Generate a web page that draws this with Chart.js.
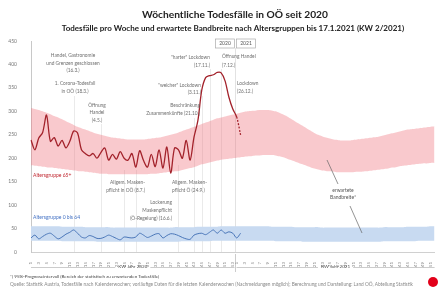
<!DOCTYPE html>
<html><head><meta charset="utf-8">
<script src="https://cdn.jsdelivr.net/npm/chart.js@4.4.1/dist/chart.umd.min.js"></script>
<style>html,body{margin:0;padding:0;background:#fff;}canvas{display:block;}</style>
</head><body>
<canvas id="c" width="442" height="287"></canvas>
<script>
// ---- DATA ----
const weeks2020 = [1,2,3,4,5,6,7,8,9,10,11,12,13,14,15,16,17,18,19,20,21,22,23,24,25,26,27,28,29,30,31,32,33,34,35,36,37,38,39,40,41,42,43,44,45,46,47,48,49,50,51,52,53];
const weeks2021 = [1,2,3,4,5,6,7,8,9,10,11,12,13,14,15,16,17,18,19,20,21,22,23,24,25,26,27,28,29,30,31,32,33,34,35,36,37,38,39,40,41,42,43,44,45,46,47,48,49,50,51,52];
const weekLabels = weeks2020.concat(weeks2021);

// weekly deaths age group 65+ (2020 KW1..53, 2021 KW1..2)
const deaths65plus = [239,218,243,255,292,236,244,226,238,222,236,258,254,218,210,205,210,200,212,222,196,208,198,214,200,196,210,181,216,195,181,208,182,218,179,224,168,222,218,200,238,196,245,280,345,372,376,378,383,382,365,330,305,288,250];
// weekly deaths age group 0-64
const deaths0to64 = [30,36,28,33,38,40,34,28,32,38,42,47,40,32,30,35,33,29,29,32,36,33,29,26,32,31,30,32,40,36,31,34,38,39,30,35,39,38,35,31,28,27,36,39,40,37,42,47,40,47,40,43,40,30,40];

// expected range (95% prediction interval), 65+
const band65Lower = [185,184,183,182,181,180,179,178,177,176,175,174,173,172,171,170,169,168,167,167,166,166,166,166,166,166,166,166,166,166,166,167,167,168,169,170,171,172,173,175,177,179,181,184,187,189,191,193,195,197,198,199,200,
 201,202,203,204,205,206,206,207,207,207,206,204,202,199,196,193,190,187,184,181,178,176,174,173,172,171,170,170,170,170,170,171,171,172,173,174,175,176,177,178,180,181,183,184,185,186,187,188,189,189,190,190];
const band65Upper = [307,305,303,300,297,294,290,287,283,279,275,271,267,264,261,258,255,252,250,248,246,244,243,242,241,240,240,240,240,240,241,242,243,244,246,248,250,252,255,258,261,264,267,270,273,276,279,282,285,287,289,291,293,
 295,297,299,300,301,302,303,303,303,302,300,297,293,289,284,279,274,269,264,259,254,250,247,244,242,240,239,238,238,238,239,240,241,242,243,244,245,247,249,251,253,255,257,259,261,262,263,264,265,266,267,268];
// expected range, 0-64
const band064Lower = [24,24,24,24,24,24,24,24,23,23,23,23,23,23,23,23,23,22,22,22,22,22,22,22,22,22,22,22,22,22,22,22,22,22,22,22,22,22,22,23,23,23,23,23,23,23,23,24,24,24,24,24,24,
 24,24,24,24,24,24,24,24,24,24,23,23,23,23,23,23,23,22,22,22,22,22,22,22,22,22,22,22,22,22,22,22,22,22,22,22,22,22,23,23,23,23,23,23,23,23,23,24,24,24,24,24];
const band064Upper = [55,55,55,55,55,55,55,55,54,54,54,54,54,54,53,53,53,53,53,53,53,52,52,52,52,52,52,52,52,52,52,52,52,52,52,52,52,53,53,53,53,53,53,54,54,54,54,54,54,55,55,55,55,
 55,55,55,55,55,55,55,55,55,54,54,54,54,54,54,53,53,53,53,53,53,53,52,52,52,52,52,52,52,52,52,52,52,52,52,52,52,52,53,53,53,53,53,53,54,54,54,54,54,54,55,55];

const yTicks = [0,50,100,150,200,250,300,350,400,450];

// annotation events: index into weekLabels and text lines
const events = [
  {idx:11, lines:['Handel, Gastronomie','und Grenzen geschlossen','(16.3.)']},
  {idx:11, lines:['1. Corona-Todesfall','in OÖ (18.3.)']},
  {idx:18, lines:['Öffnung','Handel','(4.5.)']},
  {idx:24, lines:['Lockerung','Maskenpflicht','(Ö-Regelung) (16.6.)']},
  {idx:27, lines:['Allgem. Masken-','pflicht in OÖ (8.7.)']},
  {idx:38, lines:['Allgem. Masken-','pflicht Ö (24.9.)']},
  {idx:42, lines:['Beschränkung','Zusammenkünfte (21.10.)']},
  {idx:44, lines:['"weicher" Lockdown','(3.11.)']},
  {idx:46, lines:['"harter" Lockdown','(17.11.)']},
  {idx:49, lines:['Öffnung Handel','(7.12.)']},
  {idx:51, lines:['Lockdown','(26.12.)']}
];
// layout for each event label (pixel placement/style only); lineTop = pixel where the marker line starts
const eventLayout = [
  {x:73, y:[55,63,70], align:'center', lineTop:null},
  {x:75, y:[83,91], align:'center', lineTop:96},
  {x:97, y:[105,112,120], align:'center', lineTop:124},
  {x:172, y:[202,210,218], align:'right', lineTop:170},
  {x:145, y:[182,190], align:'right', lineTop:170},
  {x:172, y:[182,190], align:'left', lineTop:165},
  {x:200, y:[105,113], align:'right', lineTop:118},
  {x:201, y:[85,92], align:'right', lineTop:96},
  {x:210, y:[57,65], align:'right', lineTop:69},
  {x:222, y:[56,65], align:'left', lineTop:69},
  {x:237, y:[83,91], align:'left', lineTop:null}
];

const FONT = 'Lato, "Open Sans", "Liberation Sans", sans-serif';

function fitSize(ctx, text, weight, target){
  ctx.font = weight + ' 10px ' + FONT;
  const w = ctx.measureText(text).width;
  return 10 * target / w;
}

const overlay = {
  id:'overlay',
  beforeDatasetsDraw(chart){
    const {ctx, chartArea:a, scales:{x, y}} = chart;
    ctx.save();
    ctx.strokeStyle = '#dcdcdc';
    ctx.lineWidth = 0.6;
    events.forEach((e,i)=>{
      const L = eventLayout[i];
      if (L.lineTop === null) return;
      const px = Math.round(x.getPixelForValue(e.idx)) + 0.5;
      ctx.beginPath(); ctx.moveTo(px, L.lineTop); ctx.lineTo(px, a.bottom); ctx.stroke();
    });
    // year separator
    const sx = Math.round((x.getPixelForValue(52) + x.getPixelForValue(53))/2) + 0.5;
    ctx.strokeStyle = '#cfcfcf';
    ctx.beginPath(); ctx.moveTo(sx, 48); ctx.lineTo(sx, a.bottom); ctx.stroke();
    ctx.restore();
  },
  afterDraw(chart){
    const {ctx, chartArea:a, scales:{x, y}} = chart;
    ctx.save();
    ctx.textBaseline = 'middle';
    // title
    ctx.fillStyle = '#222';
    ctx.textAlign = 'center';
    const t1 = 'Wöchentliche Todesfälle in OÖ seit 2020';
    ctx.font = 'bold ' + fitSize(ctx, t1, 'bold', 186) + 'px ' + FONT;
    ctx.fillText(t1, 235, 15);
    const t2 = 'Todesfälle pro Woche und erwartete Bandbreite nach Altersgruppen bis 17.1.2021 (KW 2/2021)';
    ctx.font = 'bold ' + fitSize(ctx, t2, 'bold', 343) + 'px ' + FONT;
    ctx.fillText(t2, 233, 28);

    // year boxes
    const sx = Math.round((x.getPixelForValue(52) + x.getPixelForValue(53))/2) + 0.5;
    ctx.strokeStyle = '#aaa'; ctx.lineWidth = 0.7;
    ctx.fillStyle = '#fff';
    ctx.fillRect(sx-20, 39, 19, 9); ctx.strokeRect(sx-20, 39, 19, 9);
    ctx.fillRect(sx+1, 39, 19, 9); ctx.strokeRect(sx+1, 39, 19, 9);
    ctx.fillStyle = '#555';
    ctx.font = '5px ' + FONT;
    ctx.fillText('2020', sx-10.5, 43.5);
    ctx.fillText('2021', sx+10.5, 43.5);

    // event labels
    ctx.fillStyle = '#6f6f6f';
    ctx.font = '4.8px ' + FONT;
    events.forEach((e,i)=>{
      const L = eventLayout[i];
      ctx.textAlign = L.align;
      e.lines.forEach((s,j)=> ctx.fillText(s, L.x, L.y[j]));
    });

    // series labels
    ctx.textAlign = 'left';
    ctx.font = '5px ' + FONT;
    ctx.fillStyle = '#c0262f';
    ctx.fillText('Altersgruppe 65+', 33, 175);
    ctx.fillStyle = '#4472c4';
    ctx.fillText('Altersgruppe 0 bis 64', 33, 217);

    // expected range label with leader lines
    ctx.fillStyle = '#555';
    ctx.textAlign = 'center';
    ctx.fillText('erwartete', 343, 190);
    ctx.fillText('Bandbreite*', 343, 197);
    ctx.strokeStyle = '#666'; ctx.lineWidth = 0.7;
    ctx.beginPath(); ctx.moveTo(327, 160); ctx.lineTo(338, 184); ctx.stroke();
    ctx.beginPath(); ctx.moveTo(350, 206); ctx.lineTo(362, 233); ctx.stroke();

    // year axis labels under ticks
    const ly = 267;
    ctx.strokeStyle = '#aaa'; ctx.lineWidth = 0.6;
    ctx.font = '4.6px ' + FONT;
    ctx.fillStyle = '#555';
    [[a.left, sx-1, 'KW Jahr 2020'],[sx+1, a.right, 'KW Jahr 2021']].forEach(([l,r,txt])=>{
      const c = (l+r)/2, w = ctx.measureText(txt).width/2 + 3;
      ctx.beginPath(); ctx.moveTo(l, ly+0.5); ctx.lineTo(c-w, ly+0.5); ctx.moveTo(c+w, ly+0.5); ctx.lineTo(r, ly+0.5); ctx.stroke();
      ctx.fillText(txt, c, ly);
    });
    ctx.beginPath(); ctx.moveTo(sx, 254); ctx.lineTo(sx, 272); ctx.stroke();

    // footnotes
    ctx.textAlign = 'left';
    ctx.fillStyle = '#444';
    ctx.font = '4.5px ' + FONT;
    ctx.fillText('*) 95%-Prognoseintervall (Bereich der statistisch zu erwartenden Todesfälle)', 10, 277);
    ctx.fillStyle = '#888';
    const f2 = 'Quelle: Statistik Austria, Todesfälle nach Kalenderwochen; vorläufige Daten für die letzten Kalenderwochen (Nachmeldungen möglich); Berechnung und Darstellung: Land OÖ, Abteilung Statistik';
    ctx.font = fitSize(ctx, f2, 'normal', 405) + 'px ' + FONT;
    ctx.fillText(f2, 10, 284);

    // logo
    ctx.fillStyle = '#e2001a';
    ctx.beginPath(); ctx.arc(433, 282, 5, 0, Math.PI*2); ctx.fill();
    ctx.restore();
  }
};

const pad = (arr)=> arr.concat(new Array(weekLabels.length - arr.length).fill(null));

new Chart(document.getElementById('c'), {
  type:'line',
  data:{
    labels: weekLabels,
    datasets:[
      {label:'Altersgruppe 65+', data:pad(deaths65plus), borderColor:'#a3222b', borderWidth:1.3, pointRadius:0, tension:0.3, fill:false, order:0,
        segment:{borderDash: c => c.p0DataIndex >= 53 ? [1.8,1.5] : undefined}},
      {label:'Altersgruppe 0 bis 64', data:pad(deaths0to64), borderColor:'#4a76b8', borderWidth:1, pointRadius:0, tension:0.3, fill:false, order:0},
      {label:'u65', data:band65Lower, borderWidth:0, borderColor:'rgba(0,0,0,0)', pointRadius:0, tension:0.4, fill:false, order:1},
      {label:'o65', data:band65Upper, borderWidth:0, borderColor:'rgba(0,0,0,0)', pointRadius:0, tension:0.4, fill:'-1', backgroundColor:'rgba(241,120,130,0.40)', order:1},
      {label:'u064', data:band064Lower, borderWidth:0, borderColor:'rgba(0,0,0,0)', pointRadius:0, tension:0.4, fill:false, order:1},
      {label:'o064', data:band064Upper, borderWidth:0, borderColor:'rgba(0,0,0,0)', pointRadius:0, tension:0.4, fill:'-1', backgroundColor:'#c8daf1', order:1}
    ]
  },
  options:{
    responsive:false, animation:false, devicePixelRatio:1,
    layout:{padding:{left:4, top:41, right:2, bottom:0}},
    plugins:{legend:{display:false}, tooltip:{enabled:false}, title:{display:false}},
    scales:{
      x:{
        grid:{display:false},
        border:{display:true, color:'#d0d0d0'},
        ticks:{autoSkip:false, maxRotation:90, minRotation:90, padding:2, color:'#888', font:{size:4.5, family:FONT},
          callback:(v,i)=> (weekLabels[i] % 2 === 1 ? String(weekLabels[i]) : '')},
        afterFit:(s)=>{s.height = 35;}
      },
      y:{
        min:0, max:450,
        afterBuildTicks:(s)=>{ s.ticks = yTicks.map(v=>({value:v})); },
        grid:{display:false},
        border:{display:true, color:'#c8c8c8'},
        ticks:{padding:6, color:'#777', font:{size:5, family:FONT}},
        afterFit:(s)=>{s.width = 27;}
      }
    }
  },
  plugins:[overlay]
});
</script>
</body></html>
